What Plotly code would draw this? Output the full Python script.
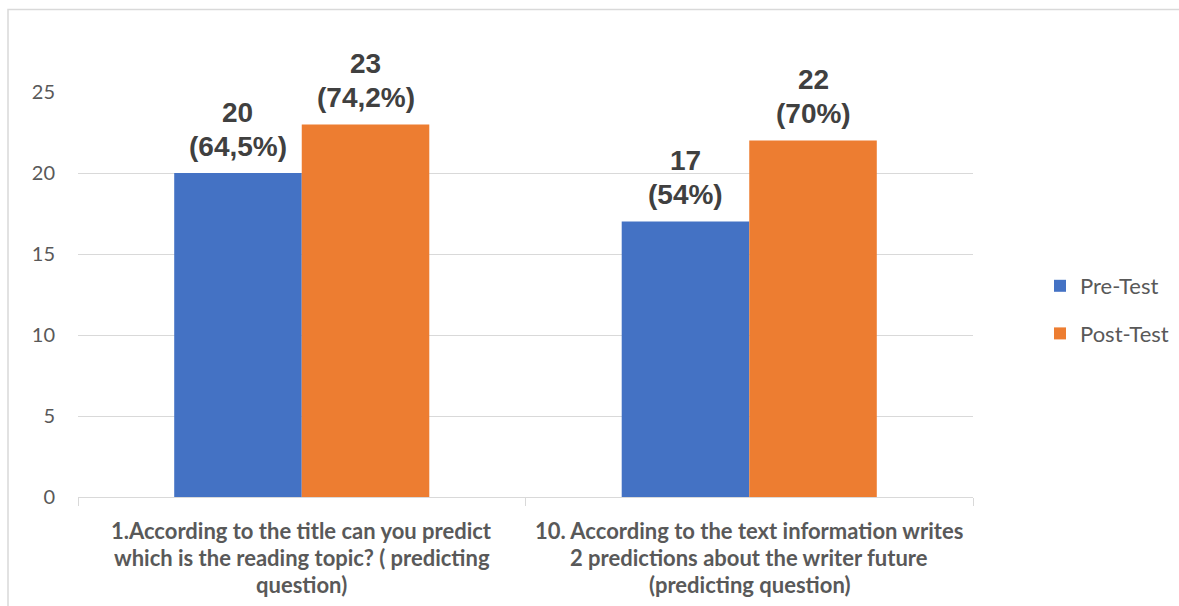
import plotly.graph_objects as go

# Questions on the x axis, one list entry per wrapped line
question_lines = [
    ["1.According to the title can you predict",
     "which is the reading topic? ( predicting",
     "question)"],
    ["10. According to the text information writes",
     "2 predictions about the writer future",
     "(predicting question)"],
]
categories = ["Q1", "Q10"]

pre_test = [20, 17]
post_test = [23, 22]
pre_pct = ["64,5%", "54%"]
post_pct = ["74,2%", "70%"]

series_names = ["Pre-Test", "Post-Test"]
y_ticks = [0, 5, 10, 15, 20, 25]

BLUE = "#4472C4"
ORANGE = "#ED7D31"
GRID = "#D9D9D9"
TXT = "#595959"
FONT = "Lato"
LABEL_FONT = "Liberation Sans"

W, H = 1179, 606
ML, MR, MT, MB = 78, 206, 92, 109
BARGAP = 0.43

fig = go.Figure()
fig.add_trace(go.Bar(x=categories, y=pre_test, name=series_names[0],
                     marker=dict(color=BLUE, line=dict(width=0)),
                     legendgroup="a"))
fig.add_trace(go.Bar(x=categories, y=post_test, name=series_names[1],
                     marker=dict(color=ORANGE, line=dict(width=0)),
                     legendgroup="b"))

annotations = []
bar_w = (1 - BARGAP) / 2
for i in range(len(categories)):
    for off, val, pct in ((-bar_w / 2, pre_test[i], pre_pct[i]),
                          (bar_w / 2, post_test[i], post_pct[i])):
        # value on the upper line, percentage below it
        for txt, shift in ((str(val), 61), (f"({pct})", 27)):
            annotations.append(dict(
                x=i + off, y=val, xref="x", yref="y",
                text=f"<b>{txt}</b>", showarrow=False,
                yanchor="middle", yshift=shift,
                font=dict(family=LABEL_FONT, size=28, color="#404040"),
            ))
    # wrapped category label, one annotation per line
    for j, line in enumerate(question_lines[i]):
        annotations.append(dict(
            x=i, y=0, xref="x", yref="y",
            text=f"<b>{line}</b>", showarrow=False,
            yanchor="middle", yshift=-33 - 27 * j,
            font=dict(family=FONT, size=22, color=TXT),
        ))

plot_w = W - ML - MR
plot_h = H - MT - MB

shapes = [dict(
    type="rect", xref="paper", yref="paper",
    x0=(8 - ML) / plot_w, x1=(W + 20 - ML) / plot_w,
    y0=-(MB + 20) / plot_h, y1=1 + (MT - 9.5) / plot_h,
    line=dict(color=GRID, width=1.5), fillcolor="rgba(0,0,0,0)", layer="below",
)]

fig.update_layout(
    width=W, height=H,
    margin=dict(l=ML, r=MR, t=MT, b=MB, pad=0, autoexpand=False),
    paper_bgcolor="white", plot_bgcolor="white",
    barmode="group", bargap=BARGAP, bargroupgap=0,
    font=dict(family=FONT, color=TXT),
    showlegend=True,
    legend=dict(
        x=(1040 - ML) / plot_w, y=(497 - 310) / plot_h,
        xanchor="left", yanchor="middle",
        font=dict(family=FONT, size=22, color=TXT),
        tracegroupgap=16, traceorder="grouped",
        bgcolor="rgba(0,0,0,0)",
    ),
    xaxis=dict(
        showticklabels=False, showgrid=False,
        showline=True, linecolor=GRID, linewidth=1,
        ticks="outside", tickson="boundaries", ticklen=8, tickcolor=GRID,
        zeroline=False,
    ),
    yaxis=dict(
        range=[0, 25], tickvals=y_ticks, showgrid=True, gridcolor=GRID,
        gridwidth=1, zeroline=False, showline=False, ticks="",
        tickfont=dict(family=FONT, size=20, color=TXT),
        ticklabelstandoff=22,
    ),
    annotations=annotations,
    shapes=shapes,
)

fig.write_html("out.html")
